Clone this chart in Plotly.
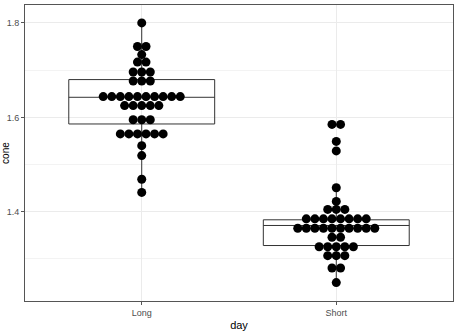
import numpy as np
import plotly.graph_objects as go

categories = ["Long", "Short"]
cat_pos = [1, 2]

# Dot rows: (y value, count) per category
long_y = [1.800, 1.750, 1.733, 1.717, 1.696, 1.677, 1.644, 1.625, 1.595, 1.565, 1.540, 1.519, 1.469, 1.441]
long_n = [1, 2, 1, 2, 3, 3, 10, 5, 3, 6, 1, 1, 1, 1]
short_y = [1.585, 1.549, 1.529, 1.451, 1.422, 1.405, 1.385, 1.365, 1.346, 1.326, 1.307, 1.281, 1.250]
short_n = [2, 1, 1, 1, 1, 3, 8, 10, 2, 5, 3, 2, 1]

# Box statistics
box_q1 = [1.586, 1.3285]
box_med = [1.6425, 1.371]
box_q3 = [1.680, 1.383]
box_lo = [1.441, 1.250]
box_hi = [1.800, 1.451]

dot_step = 0.044

fig = go.Figure()

for i in range(2):
    fig.add_trace(go.Box(
        x=[cat_pos[i]], q1=[box_q1[i]], median=[box_med[i]], q3=[box_q3[i]],
        lowerfence=[box_lo[i]], upperfence=[box_hi[i]],
        width=0.75, whiskerwidth=0, fillcolor="rgba(255,255,255,0)",
        line=dict(color="#333333", width=1), boxpoints=False, showlegend=False,
        hoverinfo="skip"))

def dots(center, ys, ns):
    xs, yy = [], []
    for y, n in zip(ys, ns):
        offs = (np.arange(n) - (n - 1) / 2) * dot_step
        xs.extend(center + offs)
        yy.extend([y] * n)
    return xs, yy

for c, ys, ns in [(1, long_y, long_n), (2, short_y, short_n)]:
    xs, yy = dots(c, ys, ns)
    fig.add_trace(go.Scatter(x=xs, y=yy, mode="markers",
                             marker=dict(color="black", size=9, line=dict(width=0)),
                             showlegend=False, hoverinfo="skip"))

fig.add_annotation(text="cone", textangle=-90, xref="paper", yref="paper",
                   x=-0.047, y=0.5, xanchor="center", yanchor="middle",
                   showarrow=False, font=dict(size=10, color="black", family="Liberation Sans, Arial"))

fig.update_layout(
    width=456, height=336,
    margin=dict(l=25, r=3, t=5, b=35),
    paper_bgcolor="white", plot_bgcolor="white",
    font=dict(family="Liberation Sans, Arial", size=9, color="#4d4d4d"),
    xaxis=dict(range=[0.4, 2.6], tickvals=cat_pos, ticktext=categories,
               showgrid=True, gridcolor="#ebebeb", gridwidth=1,
               zeroline=False, showline=True, linecolor="#555555", linewidth=1, mirror=True,
               ticks="outside", ticklen=3, tickcolor="#555555",
               title=dict(text="day", font=dict(size=11, color="black"), standoff=4)),
    yaxis=dict(range=[1.211, 1.838], tickvals=[1.4, 1.6, 1.8], ticktext=["1.4", "1.6", "1.8"],
               showgrid=True, gridcolor="#ebebeb", gridwidth=1,
               minor=dict(tickvals=[1.3, 1.5, 1.7], showgrid=True, gridcolor="#f3f3f3", gridwidth=1),
               zeroline=False, showline=True, linecolor="#555555", linewidth=1, mirror=True,
               ticks="outside", ticklen=3, tickcolor="#555555"),
)

fig.write_html("out.html")
